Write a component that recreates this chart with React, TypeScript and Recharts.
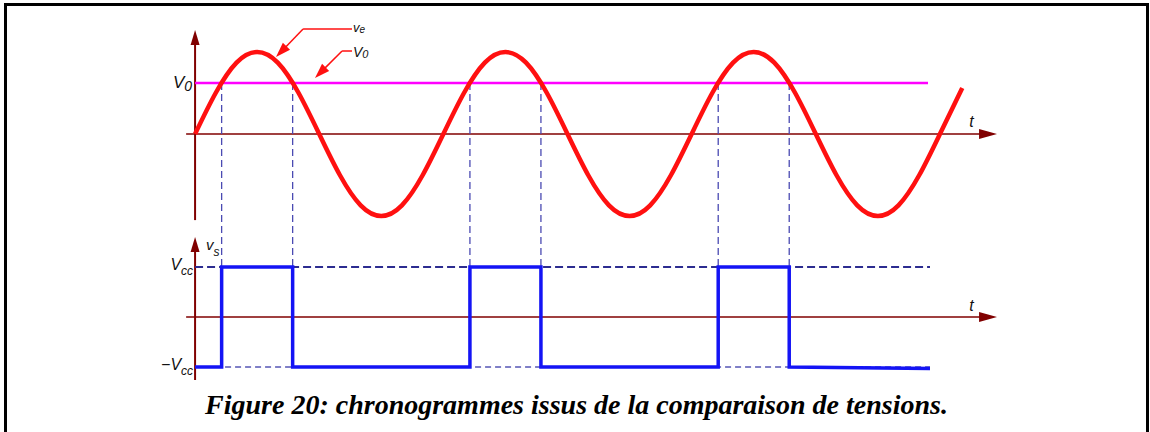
import { ComposedChart, Line, XAxis, YAxis, ReferenceLine, ReferenceDot } from 'recharts'

// time is in periods of ve (T)
const veTime = [0, 0.083, 0.167, 0.25, 0.333, 0.417, 0.5, 0.583, 0.667, 0.75, 0.833, 0.917,
  1, 1.083, 1.167, 1.25, 1.333, 1.417, 1.5, 1.583, 1.667, 1.75, 1.833, 1.917,
  2, 2.083, 2.167, 2.25, 2.333, 2.417, 2.5, 2.583, 2.667, 2.75, 2.833, 2.917,
  3, 3.09]
const veValues = [0, 0.5, 0.87, 1, 0.87, 0.5, 0, -0.5, -0.87, -1, -0.87, -0.5,
  0, 0.5, 0.87, 1, 0.87, 0.5, 0, -0.5, -0.87, -1, -0.87, -0.5,
  0, 0.5, 0.87, 1, 0.87, 0.5, 0, -0.5, -0.87, -1, -0.87, -0.5,
  0, 0.56]

const V0 = 0.622
// instants where ve crosses V0
const crossings = [0.107, 0.393, 1.107, 1.393, 2.107, 2.393]

const vsTime = [0, 0.107, 0.107, 0.393, 0.393, 1.107, 1.107, 1.393, 1.393, 2.107, 2.107, 2.393, 2.393, 2.96]
const vsValues = [-1, -1, 1, 1, -1, -1, 1, 1, -1, -1, 1, 1, -1, -1.03]

const veData = veTime.map((t, i) => ({ t, v: veValues[i] }))
const vsData = vsTime.map((t, i) => ({ t, v: vsValues[i] }))

const W = 1150
const H = 432
const TOP_DOMAIN: [number, number] = [-3.634, 1.634]
const BOT_DOMAIN: [number, number] = [-2.3, 6.34]

// convert a value of the upper axis into the lower axis
const topToBot = (v: number) => {
  const f = (TOP_DOMAIN[1] - v) / (TOP_DOMAIN[1] - TOP_DOMAIN[0])
  return BOT_DOMAIN[1] - f * (BOT_DOMAIN[1] - BOT_DOMAIN[0])
}

const AXIS = '#800000'
const AXIS_X = '#9a2f2f'
const RED = '#ff1010'

function arrow(color: string, len: number, half: number, width: number) {
  return (p: any) => {
    const { x1, y1, x2, y2 } = p
    const dx = x2 - x1, dy = y2 - y1
    const d = Math.hypot(dx, dy) || 1
    const ux = dx / d, uy = dy / d
    const bx = x2 - ux * len, by = y2 - uy * len
    const pts = `${x2},${y2} ${bx - uy * half},${by + ux * half} ${bx + uy * half},${by - ux * half}`
    return (
      <g>
        <line x1={x1} y1={y1} x2={bx + ux} y2={by + uy} stroke={color} strokeWidth={width} />
        <polygon points={pts} fill={color} />
      </g>
    )
  }
}

function label(main: string, sub: string, o: { dx: number; dy: number; anchor?: string; size?: number; subSize?: number; subDy?: number }) {
  return (p: any) => (
    <text
      x={p.cx + o.dx}
      y={p.cy + o.dy}
      textAnchor={o.anchor || 'start'}
      fontFamily="'Liberation Sans', Arial, sans-serif"
      fontStyle="italic"
      fontSize={o.size || 16}
      fill="#111"
    >
      {main}
      {sub && <tspan fontSize={o.subSize || 11} dy={o.subDy ?? 4}>{sub}</tspan>}
    </text>
  )
}

export default function App() {
  return (
    <div style={{ position: 'absolute', left: 0, top: 0, width: W, height: H, background: '#fff', overflow: 'hidden' }}>
      <div style={{ position: 'absolute', left: 4, top: 3, width: 1139, height: 450, border: '3px solid #000', borderBottom: 'none' }} />
      <div style={{ position: 'absolute', left: 0, top: 0 }}>
        <ComposedChart width={W} height={H} margin={{ top: 0, right: 148, bottom: 0, left: 133 }}>
          <XAxis dataKey="t" type="number" domain={[-0.25, 3.25]} hide allowDataOverflow />
          <YAxis yAxisId="top" type="number" domain={TOP_DOMAIN} hide allowDataOverflow />
          <YAxis yAxisId="bot" type="number" domain={BOT_DOMAIN} hide allowDataOverflow />

          {/* axes */}
          <ReferenceLine yAxisId="top" segment={[{ x: -0.036, y: 0 }, { x: 3.23, y: 0 }]} stroke={AXIS_X} shape={arrow(AXIS, 18, 5, 1.5)} />
          <ReferenceLine yAxisId="top" segment={[{ x: 0, y: -1.05 }, { x: 0, y: 1.268 }]} stroke={AXIS} shape={arrow(AXIS, 15, 4.5, 2)} />
          <ReferenceLine yAxisId="bot" segment={[{ x: -0.036, y: 0 }, { x: 3.23, y: 0 }]} stroke={AXIS_X} shape={arrow(AXIS, 18, 5, 1.5)} />
          <ReferenceLine yAxisId="bot" segment={[{ x: 0, y: -1.26 }, { x: 0, y: 1.6 }]} stroke={AXIS} shape={arrow(AXIS, 15, 4.5, 2)} />

          {/* comparison threshold */}
          <ReferenceLine yAxisId="top" segment={[{ x: 0, y: V0 }, { x: 2.952, y: V0 }]} stroke="#ff00ff" strokeWidth={2.5} />

          {/* Vcc levels */}
          <ReferenceLine yAxisId="bot" segment={[{ x: 0, y: 1 }, { x: 2.96, y: 1 }]} stroke="#2c2c90" strokeWidth={2} strokeDasharray="8 4" />
          <ReferenceLine yAxisId="bot" segment={[{ x: 0, y: -1 }, { x: 2.96, y: -1 }]} stroke="#5555b5" strokeWidth={1.5} strokeDasharray="6 4" />

          {/* projection of crossings */}
          {crossings.map((c) => (
            <ReferenceLine key={c} yAxisId="bot" segment={[{ x: c, y: topToBot(V0) }, { x: c, y: 1 }]} stroke="#4a4ab2" strokeWidth={1.3} strokeDasharray="7 4" />
          ))}

          <Line yAxisId="top" data={veData} dataKey="v" type="natural" stroke={RED} strokeWidth={4.5} dot={false} isAnimationActive={false} />
          <Line yAxisId="bot" data={vsData} dataKey="v" type="linear" stroke="#1414f5" strokeWidth={3.5} dot={false} isAnimationActive={false} />

          {/* annotations */}
          <ReferenceLine yAxisId="top" segment={[{ x: 0.632, y: 1.28 }, { x: 0.435, y: 1.28 }]} stroke={RED} strokeWidth={1.5} />
          <ReferenceLine yAxisId="top" segment={[{ x: 0.435, y: 1.28 }, { x: 0.326, y: 0.939 }]} stroke={RED} shape={arrow(RED, 15, 5, 1.5)} />
          <ReferenceLine yAxisId="top" segment={[{ x: 0.632, y: 1.012 }, { x: 0.592, y: 1.012 }]} stroke={RED} strokeWidth={1.5} />
          <ReferenceLine yAxisId="top" segment={[{ x: 0.592, y: 1.012 }, { x: 0.483, y: 0.683 }]} stroke={RED} shape={arrow(RED, 15, 5, 1.5)} />

          {/* labels */}
          <ReferenceDot yAxisId="top" x={0.632} y={1.28} r={0} shape={label('v', 'e', { dx: 1, dy: 3, size: 13, subSize: 10, subDy: 1 })} />
          <ReferenceDot yAxisId="top" x={0.632} y={1.012} r={0} shape={label('V', '0', { dx: 1, dy: 6, size: 14, subSize: 11, subDy: 1 })} />
          <ReferenceDot yAxisId="top" x={0} y={V0} r={0} shape={label('V', '0', { dx: -3, dy: 5, anchor: 'end', size: 17, subSize: 14, subDy: 3 })} />
          <ReferenceDot yAxisId="top" x={3.13} y={0} r={0} shape={label('t', '', { dx: -3, dy: -7, size: 16 })} />
          <ReferenceDot yAxisId="bot" x={3.13} y={0} r={0} shape={label('t', '', { dx: -3, dy: -6, size: 16 })} />
          <ReferenceDot yAxisId="bot" x={0} y={1.34} r={0} shape={label('v', 's', { dx: 11, dy: 0, size: 15, subSize: 12, subDy: 6 })} />
          <ReferenceDot yAxisId="bot" x={0} y={1} r={0} shape={label('V', 'cc', { dx: -2, dy: 3, anchor: 'end', size: 16, subSize: 12, subDy: 5 })} />
          <ReferenceDot yAxisId="bot" x={0} y={-1} r={0} shape={label('\u2212V', 'cc', { dx: -2, dy: 3, anchor: 'end', size: 16, subSize: 12, subDy: 5 })} />
        </ComposedChart>
      </div>
      <div
        style={{
          position: 'absolute', left: 4, top: 391, width: 1145, textAlign: 'center',
          fontFamily: "'Liberation Serif', 'Times New Roman', serif", fontWeight: 'bold', fontStyle: 'italic',
          fontSize: 28, lineHeight: '28px', color: '#000',
        }}
      >
        Figure 20: chronogrammes issus de la comparaison de tensions.
      </div>
    </div>
  )
}
